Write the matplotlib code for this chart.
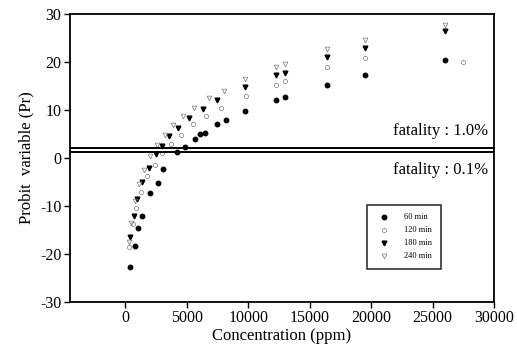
import matplotlib
matplotlib.use("Agg")
import matplotlib.pyplot as plt

plt.rcParams['font.family'] = ['Liberation Serif', 'DejaVu Serif']
plt.rcParams['axes.unicode_minus'] = False

# 60 min (filled circle)
c60 = [400, 800, 1060, 1400, 2000, 2700, 3100, 4200, 4900, 5700, 6100, 6500, 7500, 8200, 9750, 12300, 13000, 16400, 19500, 26000]
p60 = [-22.7, -18.3, -14.6, -12.0, -7.3, -5.2, -2.3, 1.2, 2.3, 3.9, 5.0, 5.2, 7.1, 7.9, 9.8, 12.1, 12.7, 15.2, 17.3, 20.4]
# 120 min (open circle)
c120 = [300, 600, 900, 1300, 1800, 2400, 3000, 3700, 4500, 5500, 6600, 7800, 9800, 12300, 13000, 16400, 19500, 27500]
p120 = [-18.5, -13.8, -10.5, -7.0, -3.8, -1.5, 1.0, 3.0, 4.8, 7.0, 8.8, 10.4, 13.0, 15.3, 16.0, 19.0, 20.8, 20.0]
# 180 min (filled triangle)
c180 = [400, 700, 1000, 1400, 1900, 2500, 3000, 3600, 4300, 5200, 6300, 7500, 9750, 12300, 13000, 16400, 19500, 26000]
p180 = [-16.5, -12.0, -8.5, -5.0, -2.0, 0.8, 2.5, 4.5, 6.2, 8.3, 10.2, 12.0, 14.8, 17.3, 17.8, 21.0, 23.0, 26.5]
# 240 min (open triangle)
c240 = [300, 500, 800, 1100, 1500, 2000, 2600, 3200, 3900, 4700, 5600, 6800, 8000, 9750, 12300, 13000, 16400, 19500, 26000]
p240 = [-17.5, -13.5, -9.0, -5.5, -2.5, 0.5, 2.8, 4.8, 6.8, 8.7, 10.5, 12.5, 14.0, 16.5, 19.0, 19.5, 22.7, 24.6, 27.7]

labels = ['60 min', '120 min', '180 min', '240 min']
fatal_levels = [2.0, 1.2]
fatal_texts = ['fatality : 1.0%', 'fatality : 0.1%']

fig = plt.figure(figsize=(5.17, 3.51), dpi=100)
ax = fig.add_axes([0.135, 0.140, 0.821, 0.820])

ax.plot(c60, p60, 'o', ms=3.2, color='black', label=labels[0], linestyle='none')
ax.plot(c120, p120, 'o', ms=3.0, mfc='none', mec='#777777', mew=0.5, label=labels[1], linestyle='none')
ax.plot(c180, p180, 'v', ms=3.4, color='black', label=labels[2], linestyle='none')
ax.plot(c240, p240, 'v', ms=3.4, mfc='none', mec='#777777', mew=0.5, label=labels[3], linestyle='none')

for lvl in fatal_levels:
    ax.axhline(lvl, color='black', lw=1.4)

ax.text(29500, 4.0, fatal_texts[0], ha='right', va='bottom', fontsize=12)
ax.text(29500, -0.8, fatal_texts[1], ha='right', va='top', fontsize=12)

ax.set_xlim(-4500, 30000)
ax.set_ylim(-30, 30)
ax.set_xticks([0, 5000, 10000, 15000, 20000, 25000, 30000])
ax.set_yticks([-30, -20, -10, 0, 10, 20, 30])
ax.set_xlabel('Concentration (ppm)', fontsize=12, labelpad=1)
ax.set_ylabel('Probit  variable (Pr)', fontsize=12, labelpad=4)
ax.tick_params(direction='out', length=4, width=1, labelsize=11.5, pad=2)
for s in ax.spines.values():
    s.set_linewidth(1.3)

leg = ax.legend(loc='lower left', bbox_to_anchor=(0.70, 0.115), fontsize=6,
                frameon=True, fancybox=False, edgecolor='black', borderpad=1.0,
                labelspacing=0.6, handletextpad=1.5, borderaxespad=0)
leg.get_frame().set_linewidth(1.2)

fig.savefig('out.png', dpi=100)
